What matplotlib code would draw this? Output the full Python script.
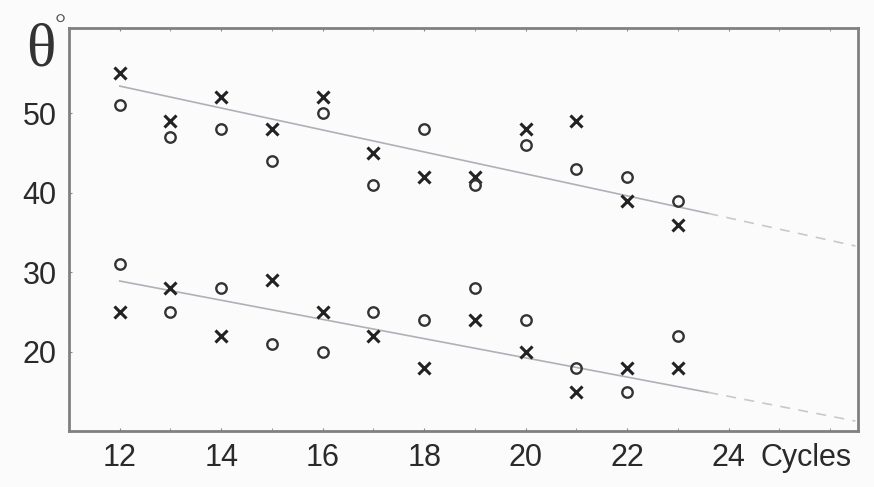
import numpy as np
import matplotlib
matplotlib.use("Agg")
import matplotlib.pyplot as plt
from matplotlib.transforms import blended_transform_factory

# cycles on the x axis
cycles = [12, 13, 14, 15, 16, 17, 18, 19, 20, 21, 22, 23]

# upper group
upper_x = [55, 49, 52, 48, 52, 45, 42, 42, 48, 49, 39, 36]
upper_o = [51, 47, 48, 44, 50, 41, 48, 41, 46, 43, 42, 39]

# lower group
lower_x = [25, 28, 22, 29, 25, 22, 18, 24, 20, 15, 18, 18]
lower_o = [31, 25, 28, 21, 20, 25, 24, 28, 24, 18, 15, 22]

# trend lines: solid part then dashed extrapolation
trend_solid_x = [12, 23.6]
trend_dash_x = [23.6, 26.5]
upper_trend_solid = [53.4, 37.4]
upper_trend_dash = [37.4, 33.3]
lower_trend_solid = [28.9, 14.9]
lower_trend_dash = [14.9, 11.3]

xticks = [12, 14, 16, 18, 20, 22, 24]
yticks = [20, 30, 40, 50]

plt.rcParams['font.family'] = ['Liberation Sans', 'DejaVu Sans']

fig = plt.figure(figsize=(8.74, 4.87), dpi=100)
fig.patch.set_facecolor('#fbfbfb')
ax = fig.add_axes([69 / 874, 1 - 431 / 487, (858 - 69) / 874, (431 - 28) / 487])
ax.set_facecolor('#fbfbfb')

# trend lines
ax.plot(trend_solid_x, upper_trend_solid, color='#b0b0b8', lw=1.2)
ax.plot(trend_dash_x, upper_trend_dash, color='#c8c8d0', lw=1.2, ls=(0, (6, 5)))
ax.plot(trend_solid_x, lower_trend_solid, color='#b0b0b8', lw=1.2)
ax.plot(trend_dash_x, lower_trend_dash, color='#c8c8d0', lw=1.2, ls=(0, (6, 5)))

# markers
for ys in (upper_x, lower_x):
    ax.plot(cycles, ys, ls='none', marker='x', ms=8.5, mew=2.2, color='#222222')
for ys in (upper_o, lower_o):
    ax.plot(cycles, ys, ls='none', marker='o', ms=7.5, mew=1.7,
            mfc='none', mec='#333333')

ax.set_xlim(11.0, 26.55)
ax.set_ylim(10.05, 60.7)

ax.set_xticks(xticks)
ax.set_yticks(yticks)
ax.set_xticks(np.arange(12, 27, 1), minor=True)
ax.tick_params(axis='both', which='both', direction='in', length=2,
               color='#888888', top=True, labelsize=22, labelcolor='#2a2a2a')
ax.tick_params(axis='x', pad=9)
ax.tick_params(axis='y', pad=9)

for s in ax.spines.values():
    s.set_color('#808080')
    s.set_linewidth(2)

# axis labels in the corners
fig.text(26 / 874, 1 - 66 / 487, 'θ', fontsize=44, family='Liberation Serif',
         color='#333333', ha='left', va='baseline')
fig.text(55 / 874, 1 - 33 / 487, '°', fontsize=20, family='Liberation Serif',
         color='#555555', ha='left', va='baseline')
trans = blended_transform_factory(ax.transData, ax.transAxes)
ax.text(24.62, -0.03, 'Cycles', transform=trans, fontsize=22, color='#2a2a2a',
        ha='left', va='top')

fig.savefig('out.png', dpi=100, facecolor=fig.get_facecolor())
